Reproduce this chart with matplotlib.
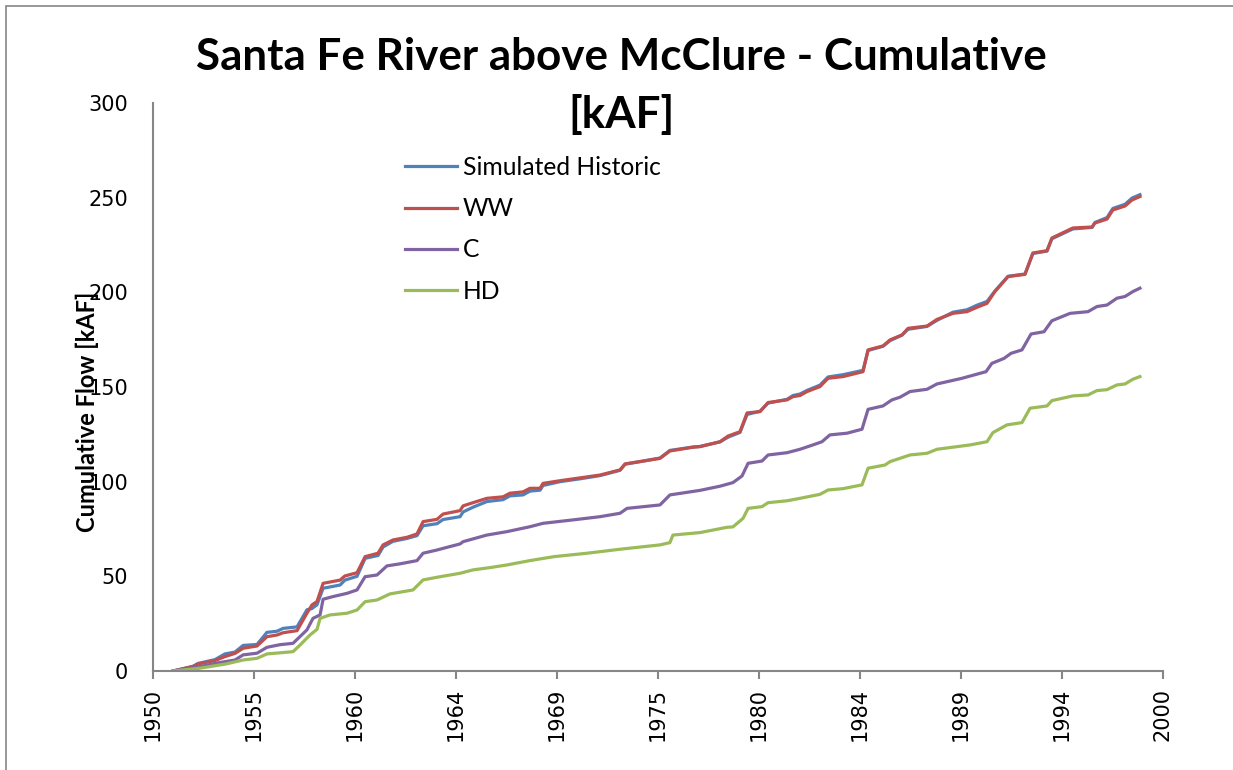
import matplotlib
matplotlib.use("Agg")
import matplotlib.pyplot as plt
from matplotlib.patches import Rectangle
import numpy as np

# cumulative flow, kAF
sim_years = [1950.99, 1951.98, 1952.23, 1953.07, 1953.56, 1954.06, 1954.46, 1955.15, 1955.64, 1956.14,
             1956.44, 1957.13, 1957.62, 1957.87, 1958.12, 1958.42, 1959.26, 1959.50, 1960.10, 1960.50,
             1961.14, 1961.39, 1961.88, 1962.57, 1963.07, 1963.37, 1964.06, 1964.36, 1965.20, 1965.35,
             1965.84, 1966.53, 1967.33, 1967.67, 1968.32, 1968.66, 1969.16, 1969.31, 1970.15, 1971.14,
             1972.13, 1973.12, 1973.37, 1974.11, 1975.10, 1975.59, 1976.73, 1977.08, 1978.07, 1978.47,
             1979.06, 1979.41, 1980.05, 1980.45, 1981.39, 1981.68, 1982.03, 1982.38, 1983.02, 1983.42,
             1984.16, 1985.15, 1985.40, 1986.14, 1986.49, 1987.08, 1987.38, 1988.32, 1988.81, 1989.60,
             1990.30, 1990.79, 1991.29, 1991.68, 1992.33, 1993.17, 1993.56, 1994.26, 1994.50, 1995.54,
             1996.49, 1996.63, 1997.23, 1997.52, 1998.12, 1998.47, 1998.86]

historic = [0, 2.5, 4.0, 6.0, 9.0, 10.0, 13.5, 14.0, 20.4, 21.0,
            22.5, 23.3, 32.3, 33.0, 35.0, 43.7, 45.4, 48.0, 50.0, 59.5,
            61.0, 65.5, 68.5, 70.0, 71.5, 76.7, 77.8, 80.0, 81.5, 84.0,
            86.5, 89.5, 90.5, 92.5, 93.0, 95.0, 95.5, 98.0, 100.0, 101.5,
            103.2, 106.0, 109.2, 110.6, 112.5, 116.5, 118.3, 118.6, 121.0, 123.5,
            126.0, 135.5, 137.2, 141.5, 143.5, 145.5, 146.3, 148.2, 151.0, 155.3,
            156.5, 158.8, 169.3, 171.5, 174.5, 177.4, 180.5, 182.0, 185.2, 189.5,
            190.8, 193.2, 195.2, 200.7, 208.5, 209.7, 220.5, 221.8, 228.3, 233.5,
            234.3, 236.9, 239.5, 244.3, 246.5, 249.8, 251.6]

ww = [0, 2.3, 3.7, 5.5, 7.6, 9.3, 12.0, 13.2, 18.1, 19.0,
      20.2, 21.3, 30.5, 34.9, 36.7, 46.3, 48.0, 50.2, 51.9, 60.4,
      62.2, 66.6, 69.2, 70.6, 72.4, 78.9, 80.1, 82.9, 84.7, 87.2,
      88.9, 91.2, 92.0, 93.9, 94.6, 96.5, 96.5, 99.1, 100.5, 102.0,
      103.5, 106.2, 109.4, 110.6, 112.3, 116.2, 118.2, 118.5, 121.1, 124.1,
      126.4, 136.3, 137.0, 141.8, 143.2, 144.9, 145.5, 147.6, 150.2, 154.6,
      155.5, 158.1, 169.6, 171.7, 174.9, 177.5, 181.0, 182.2, 185.7, 188.9,
      189.8, 192.1, 194.2, 200.4, 208.3, 209.5, 220.8, 222.0, 228.7, 234.0,
      234.5, 236.6, 238.7, 243.5, 245.6, 248.8, 250.6]

c_years = [1950.99, 1952.18, 1953.17, 1954.06, 1954.46, 1955.15, 1955.64, 1956.29, 1956.93, 1957.62,
           1957.92, 1958.27, 1958.42, 1958.91, 1959.60, 1960.10, 1960.50, 1961.09, 1961.58, 1962.23,
           1963.07, 1963.37, 1964.06, 1964.55, 1965.20, 1965.35, 1966.53, 1967.52, 1968.66, 1969.31,
           1970.79, 1972.13, 1973.12, 1973.47, 1975.10, 1975.59, 1977.08, 1978.07, 1978.71, 1979.16,
           1979.46, 1980.15, 1980.45, 1981.39, 1982.03, 1982.67, 1983.12, 1983.51, 1984.36, 1985.10,
           1985.40, 1986.14, 1986.58, 1986.98, 1987.48, 1988.32, 1988.81, 1990.05, 1991.24, 1991.53,
           1992.13, 1992.48, 1993.02, 1993.47, 1994.11, 1994.50, 1995.40, 1996.29, 1996.73, 1997.23,
           1997.72, 1998.12, 1998.51, 1998.86]
c_flow = [0, 2.0, 4.2, 5.8, 8.5, 9.4, 12.5, 13.9, 14.6, 21.7,
          27.8, 29.6, 37.9, 39.3, 41.0, 42.8, 49.8, 50.7, 55.5, 56.6,
          58.3, 62.2, 63.9, 65.3, 67.1, 68.3, 71.8, 73.6, 76.2, 78.0,
          79.8, 81.5, 83.3, 85.9, 87.7, 93.0, 95.4, 97.6, 99.5, 103.0,
          109.7, 110.9, 114.1, 115.3, 117.1, 119.4, 121.1, 124.7, 125.6, 127.7,
          138.2, 140.0, 143.2, 144.6, 147.6, 148.8, 151.6, 154.6, 158.1, 162.5,
          165.1, 167.8, 169.6, 178.0, 179.2, 185.0, 188.9, 189.8, 192.5, 193.3,
          196.9, 197.8, 200.4, 202.2]

hd_years = [1950.99, 1952.28, 1953.61, 1954.46, 1955.15, 1955.64, 1956.93, 1957.28, 1957.77, 1958.12,
            1958.27, 1958.76, 1959.60, 1960.10, 1960.50, 1961.09, 1961.73, 1962.87, 1963.37, 1964.06,
            1965.20, 1965.84, 1966.68, 1967.52, 1968.66, 1969.85, 1971.49, 1973.12, 1975.10, 1975.59,
            1975.74, 1977.08, 1978.42, 1978.71, 1979.21, 1979.46, 1980.15, 1980.45, 1981.39, 1982.03,
            1983.02, 1983.42, 1984.16, 1985.10, 1985.40, 1986.24, 1986.49, 1987.48, 1988.32, 1988.81,
            1990.45, 1991.29, 1991.58, 1992.28, 1993.02, 1993.42, 1994.26, 1994.50, 1995.54, 1996.29,
            1996.73, 1997.23, 1997.72, 1998.12, 1998.51, 1998.86]
hd_flow = [0, 1.4, 3.7, 5.8, 6.7, 9.0, 10.2, 13.7, 19.0, 22.0,
           27.8, 29.6, 30.5, 32.2, 36.6, 37.5, 40.7, 42.8, 48.1, 49.5,
           51.6, 53.4, 54.6, 56.0, 58.3, 60.4, 62.2, 64.3, 66.6, 67.8,
           71.8, 73.1, 75.9, 76.1, 80.6, 85.9, 86.8, 88.9, 89.9, 91.2,
           93.3, 95.6, 96.3, 98.3, 107.1, 108.8, 110.6, 114.1, 115.0, 117.1,
           119.4, 121.1, 125.9, 130.0, 131.2, 138.8, 140.0, 142.8, 145.3, 145.8,
           148.1, 148.6, 151.1, 151.6, 154.1, 155.5]

tick_years = [1950, 1955, 1960, 1965, 1970, 1975, 1980, 1985, 1990, 1995, 2000]
tick_labels = ['1950', '1955', '1960', '1964', '1969', '1975', '1980', '1984', '1989', '1994', '2000']

axis_gray = '#868686'
label_font = ['Lato', 'DejaVu Sans']

fig = plt.figure(figsize=(12.33, 7.70), dpi=100)
ax = fig.add_axes([0.1241, 0.1286, 0.8191, 0.7376])

lw = 2.3
ax.plot(sim_years, historic, color='#4F81BD', lw=lw, label='Simulated Historic')
ax.plot(sim_years, ww, color='#C0504D', lw=lw, label='WW')
ax.plot(c_years, c_flow, color='#8064A2', lw=lw, label='C')
ax.plot(hd_years, hd_flow, color='#9BBB59', lw=lw, label='HD')

ax.set_xlim(1950, 2000)
ax.set_ylim(0, 300)
ax.set_yticks(np.arange(0, 301, 50))
ax.set_xticks(tick_years)
ax.set_xticklabels(tick_labels, rotation=90)

for side in ['top', 'right']:
    ax.spines[side].set_visible(False)
for side in ['left', 'bottom']:
    ax.spines[side].set_color(axis_gray)
    ax.spines[side].set_linewidth(1.5)

ax.tick_params(axis='y', length=0, pad=18, labelsize=15)
ax.tick_params(axis='x', length=6, width=1.5, color=axis_gray, pad=6, labelsize=15)

fig.suptitle('Santa Fe River above McClure - Cumulative\n[kAF]', x=0.504, y=0.952,
             fontsize=31.7, fontweight='bold', family=label_font, linespacing=1.5)

fig.text(0.071, 0.465, 'Cumulative Flow [kAF]', rotation=90, ha='center', va='center',
         fontsize=17, fontweight='bold', family=label_font)

leg = ax.legend(loc='upper left', bbox_to_anchor=(0.24, 0.924), frameon=False,
                prop={'family': label_font, 'size': 17.7}, handlelength=2.1,
                handletextpad=0.25, labelspacing=0.74, borderaxespad=0)

# outer chart frame
fig.patches.append(Rectangle((6 / 1233, -0.1), 1.2, 1.1 - 6 / 770, transform=fig.transFigure,
                             fill=False, edgecolor=axis_gray, lw=1.2))

fig.savefig('out.png', dpi=100)
